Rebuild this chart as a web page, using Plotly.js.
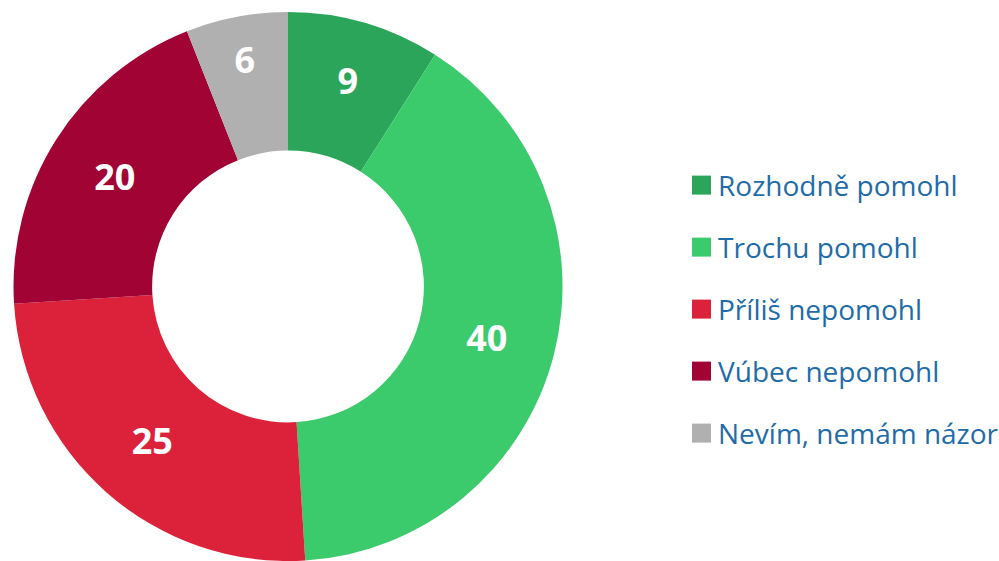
<!DOCTYPE html>
<html><head><meta charset="utf-8">
<script src="https://cdn.plot.ly/plotly-3.0.1.min.js"></script>
<style>body{margin:0;background:#fff}#c{width:999px;height:561px}</style>
</head><body><div id="c"></div>
<script>
const categories = ["Rozhodně pomohl","Trochu pomohl","Příliš nepomohl","Vúbec nepomohl","Nevím, nemám názor"];
const values = [9, 40, 25, 20, 6];
const colors = ["#2BA55A","#3CCB6C","#DC223B","#A10335","#B0B0B0"];

const trace = {
  type: "pie",
  labels: categories,
  values: values,
  hole: 0.495,
  sort: false,
  direction: "clockwise",
  rotation: 0,
  marker: {colors: colors, line: {width: 0}},
  textinfo: "value",
  textposition: "inside",
  insidetextorientation: "horizontal",
  textfont: {family: "Open Sans", size: 36, color: "#ffffff", weight: "bold"},
  domain: {x: [0.012, 0.5646], y: [0, 1]},
  showlegend: true,
  hoverinfo: "none"
};
const layout = {
  width: 999, height: 561,
  margin: {l: 0, r: 0, t: 12, b: 0, autoexpand: false},
  paper_bgcolor: "#ffffff",
  showlegend: true,
  legend: {
    xref: "container", yref: "container",
    x: 0.6787, xanchor: "left", y: 0.449, yanchor: "middle",
    font: {family: "Open Sans", size: 28, color: "#1F6CA8"},
    tracegroupgap: 0, itemclick: false
  }
};
Plotly.newPlot("c", [trace], layout, {staticPlot: true}).then(function(gd){
  gd.querySelectorAll(".legend [clip-path]").forEach(function(e){ e.removeAttribute("clip-path"); });
  gd.querySelectorAll(".legendpoints path").forEach(function(p){
    p.setAttribute("d", "M13,9.5H-6V-9.5H13Z");
  });
  const items = Array.from(gd.querySelectorAll(".legend .traces"));
  const ys = items.map(function(g){
    const m = /translate\(\s*([-\d.]+)[ ,]+([-\d.]+)/.exec(g.getAttribute("transform") || "");
    return m ? [parseFloat(m[1]), parseFloat(m[2])] : [0, 0];
  });
  const mid = Math.floor(items.length / 2);
  items.forEach(function(g, i){
    g.setAttribute("transform", "translate(" + ys[i][0] + "," + (ys[mid][1] + 62 * (i - mid)) + ")");
  });
});
</script></body></html>
